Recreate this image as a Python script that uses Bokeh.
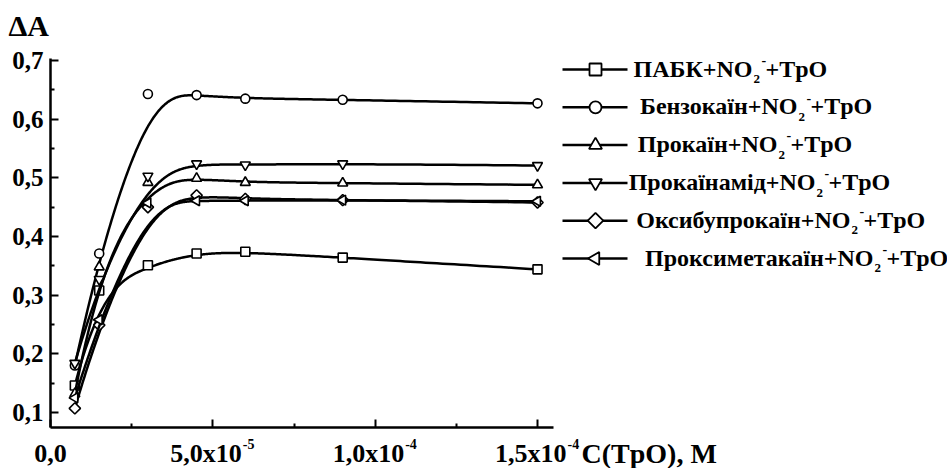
import numpy as np
from bokeh.plotting import figure
from bokeh.models import (Range1d, FixedTicker, CustomJSTickFormatter, Label,
                          LinearAxis)
from bokeh.embed import file_html
from bokeh.resources import INLINE

# ---------------- data ----------------
conc = [7.5e-6, 1.5e-5, 3.0e-5, 4.5e-5, 6.0e-5, 9.0e-5, 1.5e-4]

names = ["ПАБК", "Бензокаїн", "Прокаїн", "Прокаїнамід", "Оксибупрокаїн", "Проксиметакаїн"]

pabk = [0.146, 0.308, 0.351, 0.371, 0.374, 0.364, 0.344]
benzocaine = [0.180, 0.371, 0.643, 0.641, 0.635, 0.633, 0.627]
procaine = [0.132, 0.348, 0.492, 0.499, 0.492, 0.491, 0.488]
procainamide = [0.184, 0.327, 0.503, 0.524, 0.522, 0.524, 0.521]
oxybuprocaine = [0.107, 0.249, 0.450, 0.470, 0.464, 0.462, 0.458]
proxymetacaine = [0.125, 0.258, 0.457, 0.461, 0.461, 0.462, 0.460]

series = [pabk, benzocaine, procaine, procainamide, oxybuprocaine, proxymetacaine]

x_ticks = [0.0, 5e-5, 1e-4, 1.5e-4]
x_minor = [2.5e-5, 7.5e-5, 1.25e-4]
x_tick_main = ["0,0", "5,0x10", "1,0x10", "1,5x10"]
x_tick_sup = ["", "-5", "-4", "-4"]
y_ticks = [0.1, 0.2, 0.3, 0.4, 0.5, 0.6, 0.7]
y_minor = [0.15, 0.25, 0.35, 0.45, 0.55, 0.65]

# ---------------- layout / style ----------------
FONT = "Liberation Serif"
W, H = 947, 468
# canvas pixel <-> data mapping (frame covers the whole canvas)
X_ORIGIN_PX, KX = 50.0, 3.2467e6      # px of x=0, px per unit of x
Y_REF_PX, Y_REF, KY = 60.0, 0.7, 586.67  # px of y=0.7, px per unit of y
AX_BOTTOM_PX, AX_TOP_PX, AX_RIGHT_PX = 427.0, 58.0, 553.0
BASE_FIX = 0.33   # empirical shift of Bokeh's alphabetic baseline (fraction of font size)


def dx(cx):
    return (cx - X_ORIGIN_PX) / KX


def dy(cy):
    return Y_REF - (cy - Y_REF_PX) / KY


markers = [("square", 0.0, 9), ("circle", 0.0, 9), ("triangle", 0.0, 10),
           ("inverted_triangle", 0.0, 10), ("square", np.pi / 4, 8),
           ("triangle", np.pi / 2, 10)]


def bspline(xs, ys, n=300):
    P = np.column_stack([xs, ys]).astype(float)
    m, k = len(P), 3
    t = np.concatenate([np.zeros(k), np.arange(m - k + 1), np.full(k, m - k)]).astype(float)
    u = np.linspace(0, m - k, n)
    u[-1] -= 1e-9
    N = np.zeros((n, len(t) - 1))
    for i in range(len(t) - 1):
        N[:, i] = ((u >= t[i]) & (u < t[i + 1])).astype(float)
    for d in range(1, k + 1):
        Nn = np.zeros((n, len(t) - 1 - d))
        for i in range(len(t) - 1 - d):
            a = np.zeros(n)
            b = np.zeros(n)
            if t[i + d] > t[i]:
                a = (u - t[i]) / (t[i + d] - t[i]) * N[:, i]
            if t[i + d + 1] > t[i + 1]:
                b = (t[i + d + 1] - u) / (t[i + d + 1] - t[i + 1]) * N[:, i + 1]
            Nn[:, i] = a + b
        N = Nn
    C = N @ P
    return C[:, 0], C[:, 1]


p = figure(width=W, height=H, output_backend="svg", toolbar_location=None,
           x_range=Range1d(dx(0), dx(W)), y_range=Range1d(dy(H), dy(0)),
           x_axis_location=None, y_axis_location=None,
           min_border_left=0, min_border_top=0, min_border_bottom=0,
           min_border_right=0)
p.outline_line_color = None
p.grid.visible = False
p.background_fill_color = "white"
p.border_fill_color = "white"

# axes (fixed inside the full-canvas frame)
xa = LinearAxis(fixed_location=dy(AX_BOTTOM_PX), bounds=(0, dx(AX_RIGHT_PX)))
xa.ticker = FixedTicker(ticks=x_ticks, minor_ticks=x_minor)
xa.formatter = CustomJSTickFormatter(code="return ''")
xa.major_label_text_font_size = "0px"
xa.major_label_standoff = 0
ya = LinearAxis(fixed_location=0.0, bounds=(dy(AX_BOTTOM_PX), dy(AX_TOP_PX)))
ya.ticker = FixedTicker(ticks=y_ticks, minor_ticks=y_minor)
ya.formatter = CustomJSTickFormatter(code="return tick.toFixed(1).replace('.', ',')")
ya.major_label_text_font = FONT
ya.major_label_text_font_style = "bold"
ya.major_label_text_font_size = "25px"
ya.major_label_text_color = "black"
ya.major_label_standoff = 7
for ax in (xa, ya):
    ax.axis_line_width = 2.5
    ax.axis_line_color = "black"
    ax.major_tick_in = 8
    ax.major_tick_out = 0
    ax.minor_tick_in = 4
    ax.minor_tick_out = 0
    ax.major_tick_line_width = 2
    ax.minor_tick_line_width = 2
    ax.major_tick_line_color = "black"
    ax.minor_tick_line_color = "black"
p.add_layout(xa, "below")
p.add_layout(ya, "left")

# series
for ys, (mk, ang, sz) in zip(series, markers):
    cx, cy = bspline(conc, ys)
    p.line(cx, cy, line_color="black", line_width=2.5)
    p.scatter(conc, ys, marker=mk, angle=ang, size=sz, fill_color="white",
              line_color="black", line_width=1.6)


def lab(text, cx, cy, size, align="left", x=None, x_off=0):
    p.add_layout(Label(x=dx(cx) if x is None else x, y=dy(cy - BASE_FIX * size),
                       x_offset=x_off,
                       text=text, text_font=FONT, text_font_style="bold",
                       text_font_size=f"{size}px", text_align=align,
                       text_baseline="alphabetic", text_color="black"))


# x tick labels
for xv, main, sup in zip(x_ticks, x_tick_main, x_tick_sup):
    if sup:
        lab(main, 0, 462, 26, align="right", x=xv, x_off=29)
        lab(sup, 0, 448, 14, align="left", x=xv, x_off=30)
    else:
        lab(main, 0, 462, 26, align="center", x=xv)

# axis titles
lab("ΔA", 8, 35, 30)
lab("C(TpO), M", 581, 462, 28)

# legend
name_end = [752, 797, 777, 815, 850, 873]
for i, ((mk, ang, sz), nm, xe) in enumerate(zip(markers, names, name_end)):
    b = 76 + 37.8 * i
    ym = b - 7
    p.segment(x0=[dx(562)], y0=[dy(ym)], x1=[dx(627)], y1=[dy(ym)],
              line_color="black", line_width=2.5)
    p.scatter([dx(595)], [dy(ym)], marker=mk, angle=ang, size=sz + 3,
              fill_color="white", line_color="black", line_width=1.8)
    lab(nm + "+NO", xe, b, 24, align="right")
    lab("2", xe + 1, b + 7, 13)
    lab("-", xe + 9, b - 12, 14)
    lab("+TpO", xe + 13, b, 24)

open("out.html", "w").write(file_html(p, INLINE))
